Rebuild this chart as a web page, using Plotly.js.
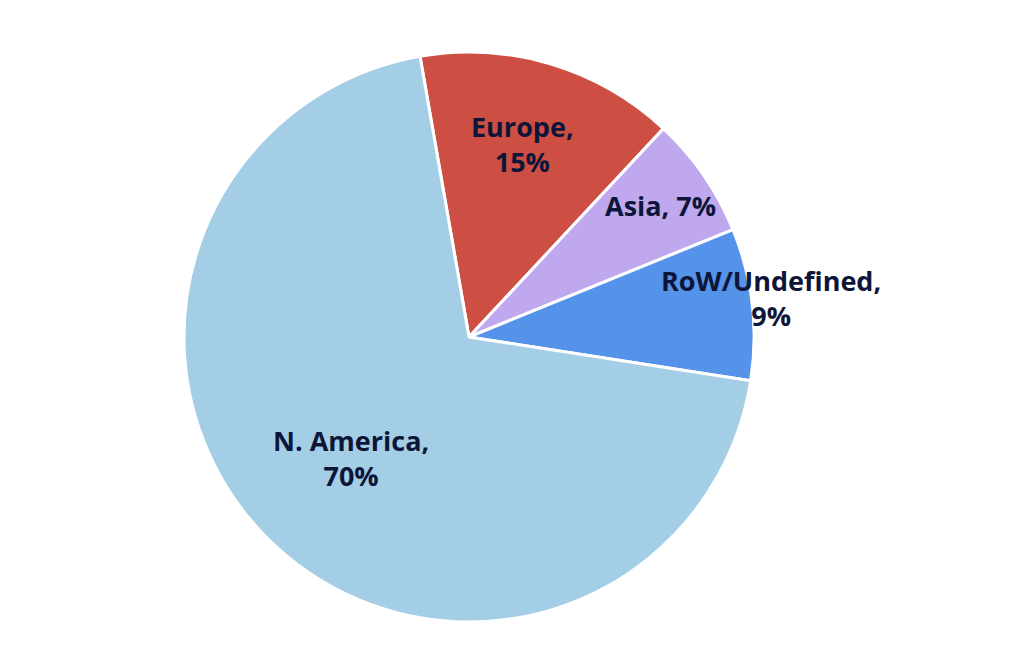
<!DOCTYPE html>
<html><head><meta charset="utf-8">
<script src="https://cdn.plot.ly/plotly-3.0.1.min.js"></script>
<style>html,body{margin:0;padding:0;background:#fff}#chart{width:1024px;height:662px}</style>
</head><body><div id="chart"></div>
<script>
const regions = ["Europe", "Asia", "RoW/Undefined", "N. America"];
const shares = [14.7, 6.9, 8.6, 69.8];
const shareLabels = ["15%", "7%", "9%", "70%"];
const colors = ["#CD4E43", "#BFA8EE", "#5592EA", "#A3CEE6"];
const labelText = ["Europe,<br>15%", "Asia, 7%", "RoW/Undefined,<br>9%", "N. America,<br>70%"];
const labelPos = [[522,144],[660,206],[771,298],[351,458]];

const W = 1024, H = 662;
const annotations = regions.map((r,i)=>({
  text: labelText[i], xref:'paper', yref:'paper',
  x: labelPos[i][0]/W, y: 1 - labelPos[i][1]/H,
  xanchor:'center', yanchor:'middle', showarrow:false,
  font:{family:'Open Sans', size:27, color:'#0D1538', weight:700}
}));

const cx=469, cy=337, R=285;
Plotly.newPlot('chart', [{
  type:'pie', labels: regions, values: shares, sort:false, direction:'clockwise',
  rotation:-9.9, textinfo:'none', hoverinfo:'label+percent',
  marker:{colors: colors, line:{color:'#ffffff', width:3}},
  domain:{x:[(cx-R)/W,(cx+R)/W], y:[(H-cy-R)/H,(H-cy+R)/H]}
}], {
  width:W, height:H, margin:{l:0,r:0,t:0,b:0}, showlegend:false,
  paper_bgcolor:'#fff', annotations: annotations
}, {displayModeBar:false, staticPlot:true});
</script></body></html>
